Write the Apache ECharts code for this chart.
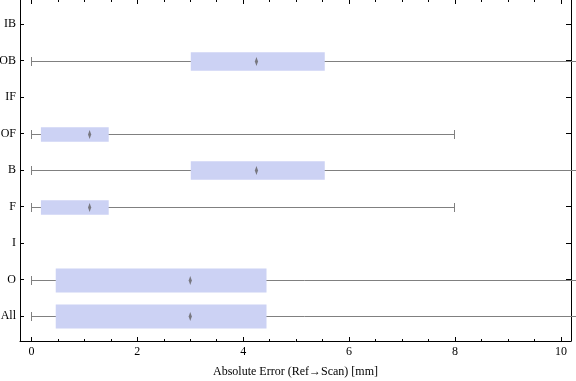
<!DOCTYPE html>
<html>
<head>
<meta charset="utf-8">
<script src="https://cdn.jsdelivr.net/npm/echarts@6/dist/echarts.min.js"></script>
<style>html,body{margin:0;padding:0;background:#fff}#c{width:576px;height:381px}</style>
</head>
<body>
<div id="c"></div>
<script>
// ---- data (bottom to top) ----
const categories   = ['All', 'O', 'I', 'F', 'B', 'OF', 'IF', 'OB', 'IB'];
const whiskerLow   = [0,     0,    null, 0,    0,    0,    null, 0,    null];
const quartile1    = [0.46,  0.46, null, 0.18, 3.01, 0.18, null, 3.01, null];
const medians      = [3.00,  3.00, null, 1.10, 4.25, 1.10, null, 4.25, null];
const quartile3    = [4.44,  4.44, null, 1.46, 5.54, 1.46, null, 5.54, null];
const whiskerHigh  = [10.4,  10.4, null, 7.98, 10.4, 7.98, null, 10.4, null];
const xTickValues  = [0, 2, 4, 6, 8, 10];
const xMinorValues = [0.5, 1, 1.5, 2.5, 3, 3.5, 4.5, 5, 5.5, 6.5, 7, 7.5, 8.5, 9, 9.5];
const xAxisTitle   = 'Absolute Error (Ref\u2192Scan) [mm]';

// ---- style ----
const boxThicknessPx = { All: 24, O: 24, F: 14.7, B: 18.5, OF: 14.7, OB: 18.5 };
const FONT = 'Liberation Serif, Times New Roman, serif';
const boxColor = '#ccd2f4';
const whiskerColor = '#808080';

const yTickValues = categories.map((c, i) => i + 1);
const seriesData = [];
categories.forEach((c, i) => {
  if (medians[i] == null) return;
  seriesData.push([i + 1, whiskerLow[i], quartile1[i], medians[i], quartile3[i], whiskerHigh[i], i]);
});

function renderItem(params, api) {
  const y = api.value(0);
  const idx = api.value(6);
  const h = boxThicknessPx[categories[idx]];
  const pLo = api.coord([api.value(1), y]);
  const pQ1 = api.coord([api.value(2), y]);
  const pMed = api.coord([api.value(3), y]);
  const pQ3 = api.coord([api.value(4), y]);
  const pHi = api.coord([api.value(5), y]);
  const cy = Math.round(pLo[1]) + 0.5;
  const capH = 4.5;
  const lineStyle = { stroke: whiskerColor, lineWidth: 1, fill: null };
  const xLo = Math.round(pLo[0]) + 0.5;
  const xHi = Math.round(pHi[0]) + 0.5;
  const children = [
    { type: 'line', shape: { x1: xLo, y1: cy, x2: xHi, y2: cy }, style: lineStyle },
    { type: 'line', shape: { x1: xLo, y1: cy - capH, x2: xLo, y2: cy + capH }, style: lineStyle },
    { type: 'line', shape: { x1: xHi, y1: cy - capH, x2: xHi, y2: cy + capH }, style: lineStyle },
    { type: 'rect', shape: { x: pQ1[0], y: cy - h / 2, width: pQ3[0] - pQ1[0], height: h }, style: { fill: boxColor } },
    { type: 'polygon', shape: { points: [[pMed[0], cy - 4.5], [pMed[0] + 1.6, cy], [pMed[0], cy + 4.5], [pMed[0] - 1.6, cy]] },
      style: { fill: '#787880' } }
  ];
  return { type: 'group', children: children };
}

const chart = echarts.init(document.getElementById('c'), null, { renderer: 'canvas' });
const xMin = -0.215, xMax = 10.19, yMin = 0.32, yMax = 9.66;
const baseX = { type: 'value', min: xMin, max: xMax, splitLine: { show: false }, gridIndex: 0 };
const baseY = { type: 'value', min: yMin, max: yMax, splitLine: { show: false }, gridIndex: 0 };
chart.setOption({
  animation: false,
  grid: { left: 20, right: 5, top: 0, bottom: 40, containLabel: false, outerBoundsMode: 'none' },
  xAxis: [
    Object.assign({}, baseX, {
      position: 'bottom',
      axisLine: { show: true, onZero: false, lineStyle: { color: '#000', width: 1 } },
      axisTick: { show: true, inside: true, length: 4, customValues: xTickValues, lineStyle: { color: '#000' } },
      axisLabel: { show: true, customValues: xTickValues, color: '#000', fontFamily: FONT, fontSize: 12, margin: 5 },
      name: xAxisTitle, nameLocation: 'middle', nameGap: 25,
      nameTextStyle: { color: '#000', fontFamily: FONT, fontSize: 12 }
    }),
    Object.assign({}, baseX, {
      position: 'bottom',
      axisLine: { show: false },
      axisTick: { show: true, inside: true, length: 2, customValues: xMinorValues, lineStyle: { color: '#000' } },
      axisLabel: { show: false }
    }),
    Object.assign({}, baseX, {
      position: 'top',
      axisLine: { show: false },
      axisTick: { show: true, inside: true, length: 4, customValues: xTickValues, lineStyle: { color: '#000' } },
      axisLabel: { show: false }
    }),
    Object.assign({}, baseX, {
      position: 'top',
      axisLine: { show: false },
      axisTick: { show: true, inside: true, length: 2, customValues: xMinorValues, lineStyle: { color: '#000' } },
      axisLabel: { show: false }
    })
  ],
  yAxis: [
    Object.assign({}, baseY, {
      position: 'left',
      axisLine: { show: true, onZero: false, lineStyle: { color: '#000', width: 1 } },
      axisTick: { show: true, inside: true, length: 4, customValues: yTickValues, lineStyle: { color: '#000' } },
      axisLabel: { show: true, customValues: yTickValues, color: '#000', fontFamily: FONT, fontSize: 12, margin: 4,
        formatter: v => categories[Math.round(v) - 1] }
    }),
    Object.assign({}, baseY, {
      position: 'right',
      axisLine: { show: true, onZero: false, lineStyle: { color: '#000', width: 1 } },
      axisTick: { show: true, inside: true, length: 5, customValues: yTickValues, lineStyle: { color: '#000' } },
      axisLabel: { show: false }
    })
  ],
  series: [{
    type: 'custom',
    xAxisIndex: 0,
    yAxisIndex: 0,
    clip: false,
    renderItem: renderItem,
    data: seriesData,
    encode: { x: [1, 2, 3, 4, 5], y: 0 }
  },
  { type: 'scatter', xAxisIndex: 1, yAxisIndex: 1, data: [], silent: true },
  { type: 'scatter', xAxisIndex: 2, yAxisIndex: 1, data: [], silent: true },
  { type: 'scatter', xAxisIndex: 3, yAxisIndex: 1, data: [], silent: true }]
});
</script>
</body>
</html>
